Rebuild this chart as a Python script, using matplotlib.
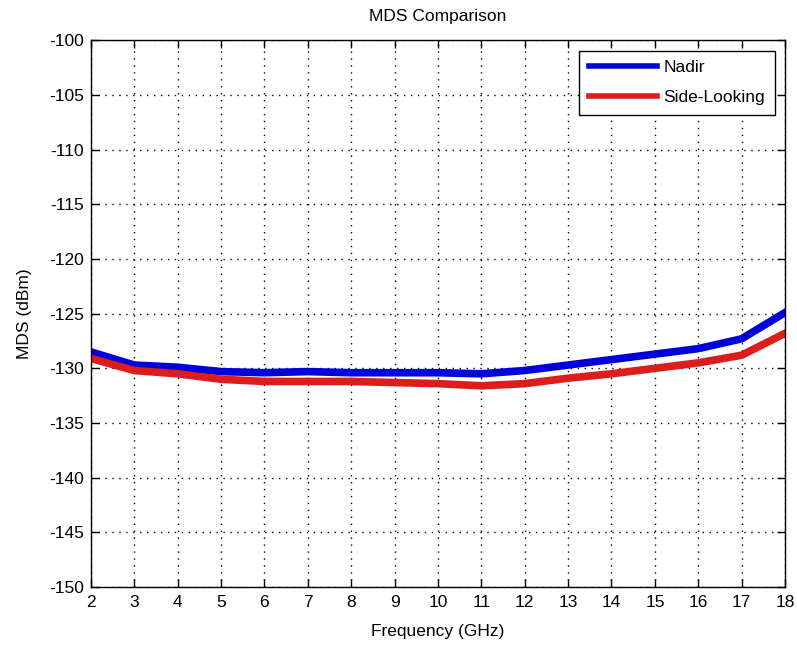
import numpy as np
import matplotlib.pyplot as plt

plt.rcParams['font.family'] = ['Liberation Sans', 'DejaVu Sans']
plt.rcParams['axes.unicode_minus'] = False

freq = [2, 3, 4, 5, 6, 7, 8, 9, 10, 11, 12, 13, 14, 15, 16, 17, 18]
mds_nadir = [-128.5, -129.7, -129.9, -130.3, -130.4, -130.3, -130.4, -130.4, -130.4,
             -130.5, -130.2, -129.7, -129.2, -128.7, -128.2, -127.3, -124.9]
mds_side = [-129.1, -130.2, -130.5, -131.0, -131.2, -131.2, -131.2, -131.3, -131.4,
            -131.6, -131.4, -130.9, -130.5, -130.0, -129.5, -128.8, -126.8]

fig = plt.figure(figsize=(7.97, 6.48), dpi=100)
ax = fig.add_axes([0.114, 0.094, 0.871, 0.844])

ax.plot(freq, mds_nadir, color='#0000dd', lw=5.5, label='Nadir')
ax.plot(freq, mds_side, color='#dd1c1c', lw=5.5, label='Side-Looking')

ax.set_xlim(2, 18)
ax.set_ylim(-150, -100)
ax.set_xticks(np.arange(2, 19, 1))
ax.set_yticks(np.arange(-150, -99, 5))
ax.tick_params(direction='in', labelsize=12.5, top=True, right=True, length=6, width=1)
ax.tick_params(axis='x', pad=6)
ax.tick_params(axis='y', pad=5)
ax.grid(True, color='black', linestyle=(0, (1, 4)), linewidth=1)
for s in ax.spines.values():
    s.set_linewidth(1)

ax.set_title('MDS Comparison', fontsize=12.5, pad=14)
ax.set_xlabel('Frequency (GHz)', fontsize=12.5, labelpad=10)
ax.set_ylabel('MDS (dBm)', fontsize=12.5, labelpad=12)

leg = ax.legend(loc='upper right', fontsize=12.5, fancybox=False, framealpha=1,
                edgecolor='black', handlelength=3.9, handletextpad=0.4,
                labelspacing=0.85, borderpad=0.55, borderaxespad=0.6)
leg.get_frame().set_linewidth(1)
for h in leg.get_lines():
    h.set_linewidth(4)

fig.savefig('out.png', dpi=100)
